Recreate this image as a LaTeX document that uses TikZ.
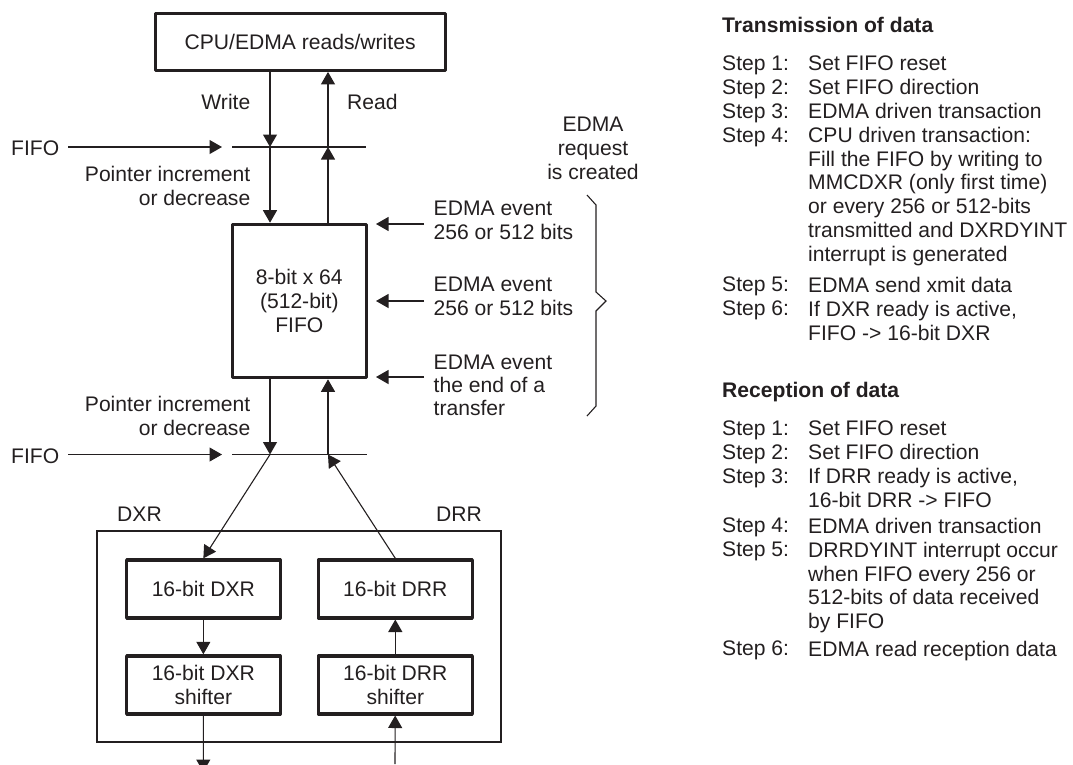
\documentclass[tikz,border=0pt]{standalone}
\usepackage{fontspec}
\setmainfont{Liberation Sans}
\usetikzlibrary{arrows.meta}
\definecolor{ink}{HTML}{231F20}
\tikzset{
 x=1pt,y=-1pt,
 every node/.style={text=ink,font=\fontsize{21.1}{24}\selectfont,inner sep=0pt},
 thick box/.style={draw=ink,line width=3.2pt,fill=white,align=center,anchor=north west,line join=round,outer sep=1.6pt},
 outer box/.style={draw=ink,line width=1.8pt,anchor=north west,outer sep=0pt},
 conn/.style={draw=ink,line width=1.1pt,-{Triangle[length=12.5pt,width=14pt]}},
 plain/.style={draw=ink,line width=1.1pt},
 lab/.style={align=left,anchor=north west},
 rlab/.style={align=right,anchor=north east},
 clab/.style={align=center,anchor=north},
 steps/.style={align=left,anchor=north west,font=\fontsize{21.1}{23.8}\selectfont},
 heading/.style={anchor=north west,font=\fontsize{21.1}{23.8}\selectfont\bfseries},
}
\begin{document}
\begin{tikzpicture}
\useasboundingbox (0,0) rectangle (1073,764);
\clip (0,0) rectangle (1073,764);
% boxes
\node[outer box,minimum width=404pt,minimum height=211pt] (outer) at (97,531) {};
\node[thick box,minimum width=290pt,minimum height=57pt] (cpu) at (153.5,11.7) {CPU/EDMA reads/writes};
\node[thick box,minimum width=134pt,minimum height=153.4pt] (fifo) at (230.7,222.7) {8-bit x 64\\(512-bit)\\FIFO};
\node[thick box,minimum width=153.5pt,minimum height=58pt] (dxr) at (125,558.3) {16-bit DXR};
\node[thick box,minimum width=154pt,minimum height=58pt] (drr) at (316.7,558.3) {16-bit DRR};
\node[thick box,minimum width=153.5pt,minimum height=58pt] (dxrs) at (125,654.3) {16-bit DXR\\shifter};
\node[thick box,minimum width=154pt,minimum height=58pt] (drrs) at (316.7,654.3) {16-bit DRR\\shifter};
% coordinates
\coordinate (w1) at (270,147); \coordinate (r1) at (328,147);
\coordinate (l1a) at (232,147); \coordinate (l1b) at (366,147);
\coordinate (l2a) at (232,454.5); \coordinate (l2b) at (367,454.5);
\coordinate (c2) at (270,454.5); \coordinate (d2) at (328,454.5);
\coordinate (bd) at (203.3,772); \coordinate (bu) at (395,764);
\coordinate (fa1) at (68,147); \coordinate (fb1) at (222,147);
\coordinate (fa2) at (68,454.5); \coordinate (fb2) at (222,454.5);
\coordinate (a1a) at (424,224); \coordinate (a1b) at (376,224);
\coordinate (a2a) at (424,301); \coordinate (a2b) at (376,301);
\coordinate (a3a) at (424,377); \coordinate (a3b) at (376,377);
% labels
\node[lab] (ff1) at (11,141) {FIFO};
\node[lab] (ff2) at (11,449) {FIFO};
\node[rlab] at (250.5,94) {Write};
\node[lab] at (347,94) {Read};
\node[rlab] at (250.5,166) {Pointer increment\\or decrease};
\node[rlab] at (250.5,396) {Pointer increment\\or decrease};
\node[clab] at (593,117) {EDMA\\request\\is created};
\node[lab] (e1) at (433.5,200.5) {EDMA event\\256 or 512 bits};
\node[lab] (e2) at (433.5,277) {EDMA event\\256 or 512 bits};
\node[lab,font=\fontsize{21.1}{23}\selectfont] (e3) at (433.5,354.5) {EDMA event\\the end of a\\transfer};
\node[lab] at (117,507) {DXR};
\node[lab] at (436,507) {DRR};
% connectors
\draw[conn] (cpu.south -| w1) -- (w1);
\draw[conn] (w1) -- (fifo.north -| w1);
\draw[conn] (r1) -- (cpu.south -| r1);
\draw[conn] (fifo.north -| r1) -- (r1);
\draw[plain] (l1a) -- (l1b);
\draw[plain] (l2a) -- (l2b);
\draw[conn] (fa1) -- (fb1);
\draw[conn] (fa2) -- (fb2);
\draw[conn] (fifo.south -| c2) -- (c2);
\draw[conn] (d2) -- (fifo.south -| d2);
\draw[conn] (c2) -- (dxr.north);
\draw[conn] (drr.north) -- (d2);
\draw[conn] (dxr) -- (dxrs);
\draw[conn] (drrs) -- (drr);
\draw[conn] (dxrs) -- (bd);
\draw[conn] (bu) -- (drrs);
\draw[conn] (a1a) -- (a1b);
\draw[conn] (a2a) -- (a2b);
\draw[conn] (a3a) -- (a3b);
\draw[plain] (587,195) -- (596,205) -- (596,292) -- (606,301) -- (596,311) -- (596,406) -- (587,416);
% right text
\node[heading] at (722,17) {Transmission of data};
\node[steps] at (722,56) {Step 1:\\Step 2:\\Step 3:\\Step 4:};
\node[steps] at (808,56) {Set FIFO reset\\Set FIFO direction\\EDMA driven transaction\\CPU driven transaction:\\Fill the FIFO by writing to\\MMCDXR (only first time)\\or every 256 or 512-bits\\transmitted and DXRDYINT\\interrupt is generated};
\node[steps] at (722,277) {Step 5:\\Step 6:};
\node[steps] at (808,277) {EDMA send xmit data\\If DXR ready is active,\\FIFO -> 16-bit DXR};
\node[heading] at (722,382) {Reception of data};
\node[steps] at (722,421) {Step 1:\\Step 2:\\Step 3:};
\node[steps] at (808,421) {Set FIFO reset\\Set FIFO direction\\If DRR ready is active,\\16-bit DRR -> FIFO};
\node[steps] at (722,518) {Step 4:\\Step 5:};
\node[steps] at (808,518) {EDMA driven transaction\\DRRDYINT interrupt occur\\when FIFO every 256 or\\512-bits of data received\\by FIFO};
\node[steps] at (722,641) {Step 6:};
\node[steps] at (808,641) {EDMA read reception data};
\end{tikzpicture}
\end{document}
